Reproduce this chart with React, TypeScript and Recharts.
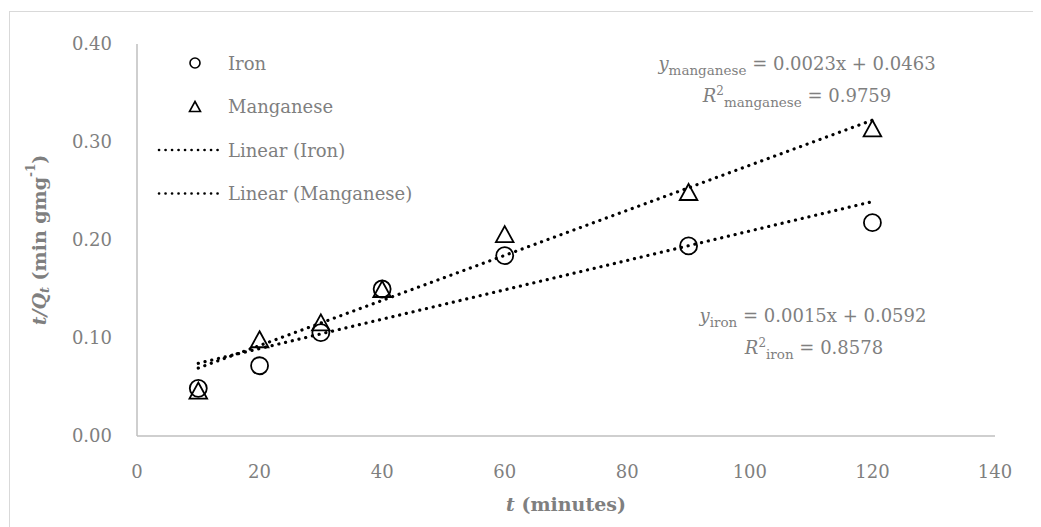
import React from 'react';
import { ScatterChart, Scatter, XAxis, YAxis, Legend } from 'recharts';

// sampling times (minutes)
const times = [10, 20, 30, 40, 60, 90, 120];
// t/Qt values
const ironValues = [0.0486, 0.0717, 0.1054, 0.15, 0.184, 0.194, 0.2177];
const manganeseValues = [0.0464, 0.0987, 0.116, 0.15, 0.206, 0.249, 0.314];

// trendline end points
const trendX = [10, 120];
const ironTrendValues = [0.0742, 0.2392];
const manganeseTrendValues = [0.0693, 0.3223];

const xTicks = [0, 20, 40, 60, 80, 100, 120, 140];
const yTicks = [0, 0.1, 0.2, 0.3, 0.4];

const legendItems = ['Iron', 'Manganese', 'Linear (Iron)', 'Linear (Manganese)'];

const toPoints = (xs: number[], ys: number[]) => xs.map((x, i) => ({ x, y: ys[i] }));

const ironData = toPoints(times, ironValues);
const manganeseData = toPoints(times, manganeseValues);
const ironTrend = toPoints(trendX, ironTrendValues);
const manganeseTrend = toPoints(trendX, manganeseTrendValues);

const FONT = '"DejaVu Serif", "Liberation Serif", serif';
const GRAY = '#7f7f7f';
const AXIS = '#bfbfbf';
const dotted = { stroke: '#000', strokeWidth: 3.2, strokeDasharray: '0.1 6.8', strokeLinecap: 'round' as const };

const CircleMark = (props: any) => (
  <circle cx={props.cx} cy={props.cy} r={8.5} fill="none" stroke="#000" strokeWidth={1.8} />
);

const TriangleMark = (props: any) => {
  const { cx, cy } = props;
  return (
    <polygon
      points={`${cx},${cy - 8} ${cx + 8.8},${cy + 8} ${cx - 8.8},${cy + 8}`}
      fill="none"
      stroke="#000"
      strokeWidth={1.8}
    />
  );
};

const NoMark = () => <g />;

const XTitle = (props: any) => {
  const { x, y, width } = props.viewBox;
  return (
    <text x={x + width / 2} y={y + 75} textAnchor="middle" fill={GRAY} fontFamily={FONT} fontSize={19} fontWeight="bold">
      <tspan fontStyle="italic">t</tspan>
      <tspan> (minutes)</tspan>
    </text>
  );
};

const YTitle = (props: any) => {
  const { y, height } = props.viewBox;
  const cx = 31;
  const cy = y + height / 2;
  return (
    <text
      x={cx}
      y={cy}
      transform={`rotate(-90 ${cx} ${cy})`}
      textAnchor="middle"
      dominantBaseline="central"
      fill={GRAY}
      fontFamily={FONT}
      fontSize={19}
      fontWeight="bold"
    >
      <tspan fontStyle="italic">t/Q</tspan>
      <tspan fontStyle="italic" fontSize={13} dy={5}>t</tspan>
      <tspan dy={-5}> (min gmg</tspan>
      <tspan fontSize={12} dy={-8}>-1</tspan>
      <tspan dy={8}>)</tspan>
    </text>
  );
};

const LegendBox = () => (
  <svg width={420} height={220} style={{ display: 'block' }}>
    {legendItems.map((name, i) => {
      const cy = 55 + i * 43.5;
      let mark;
      if (i === 0) mark = <circle cx={187} cy={cy} r={5} fill="none" stroke="#000" strokeWidth={1.6} />;
      else if (i === 1)
        mark = (
          <polygon
            points={`187,${cy - 5} ${192.5},${cy + 5} ${181.5},${cy + 5}`}
            fill="none"
            stroke="#000"
            strokeWidth={1.6}
          />
        );
      else mark = <line x1={151} x2={210} y1={cy} y2={cy} {...dotted} strokeWidth={2.6} strokeDasharray="0.1 6.4" />;
      return (
        <g key={name}>
          {mark}
          <text x={220} y={cy} dominantBaseline="central" fill={GRAY} fontFamily={FONT} fontSize={18}>
            {name}
          </text>
        </g>
      );
    })}
  </svg>
);

const Equations = () => (
  <svg width={1033} height={519} style={{ position: 'absolute', left: 0, top: 0, pointerEvents: 'none' }}>
    <g fill={GRAY} fontFamily={FONT} fontSize={18} textAnchor="middle">
      <text x={789} y={62}>
        <tspan fontStyle="italic">y</tspan>
        <tspan fontSize={13.5} dy={5}>manganese</tspan>
        <tspan dy={-5}> = 0.0023x + 0.0463</tspan>
      </text>
      <text x={789} y={94}>
        <tspan fontStyle="italic">R</tspan>
        <tspan fontSize={12} dy={-7}>2</tspan>
        <tspan fontSize={13.5} dy={12}>manganese</tspan>
        <tspan dy={-5}> = 0.9759</tspan>
      </text>
      <text x={805} y={314}>
        <tspan fontStyle="italic">y</tspan>
        <tspan fontSize={13.5} dy={5}>iron</tspan>
        <tspan dy={-5}> = 0.0015x + 0.0592</tspan>
      </text>
      <text x={806} y={346}>
        <tspan fontStyle="italic">R</tspan>
        <tspan fontSize={12} dy={-7}>2</tspan>
        <tspan fontSize={13.5} dy={12}>iron</tspan>
        <tspan dy={-5}> = 0.8578</tspan>
      </text>
    </g>
  </svg>
);

export default function App() {
  return (
    <div style={{ position: 'relative', width: 1033, height: 519 }}>
      <div
        style={{
          position: 'absolute',
          left: 1,
          top: 3,
          width: 1032,
          height: 516,
          borderTop: '1px solid #d9d9d9',
          borderLeft: '1px solid #d9d9d9',
          boxSizing: 'border-box',
        }}
      />
      <ScatterChart width={1033} height={519} margin={{ top: 36, right: 46, bottom: 0, left: 0 }}>
        <XAxis
          type="number"
          dataKey="x"
          domain={[0, 140]}
          ticks={xTicks}
          height={91}
          tickSize={0}
          tickMargin={29}
          axisLine={{ stroke: AXIS, strokeWidth: 1.5 }}
          tickLine={false}
          tick={{ fill: GRAY, fontSize: 18, fontFamily: FONT }}
          label={<XTitle />}
        />
        <YAxis
          type="number"
          dataKey="y"
          domain={[0, 0.4]}
          ticks={yTicks}
          width={129}
          tickSize={0}
          tickMargin={25}
          axisLine={{ stroke: AXIS, strokeWidth: 1.5 }}
          tickLine={false}
          tick={{ fill: GRAY, fontSize: 18, fontFamily: FONT }}
          tickFormatter={(v: number) => v.toFixed(2)}
          label={<YTitle />}
        />
        <Legend
          layout="vertical"
          align="center"
          verticalAlign="middle"
          content={<LegendBox />}
          wrapperStyle={{ position: 'absolute', left: 0, top: 0, width: 420 }}
        />
        <Scatter name="Iron" data={ironData} shape={<CircleMark />} isAnimationActive={false} />
        <Scatter name="Manganese" data={manganeseData} shape={<TriangleMark />} isAnimationActive={false} />
        <Scatter name="Linear (Iron)" data={ironTrend} shape={<NoMark />} line={dotted} isAnimationActive={false} />
        <Scatter
          name="Linear (Manganese)"
          data={manganeseTrend}
          shape={<NoMark />}
          line={dotted}
          isAnimationActive={false}
        />
      </ScatterChart>
      <Equations />
    </div>
  );
}
